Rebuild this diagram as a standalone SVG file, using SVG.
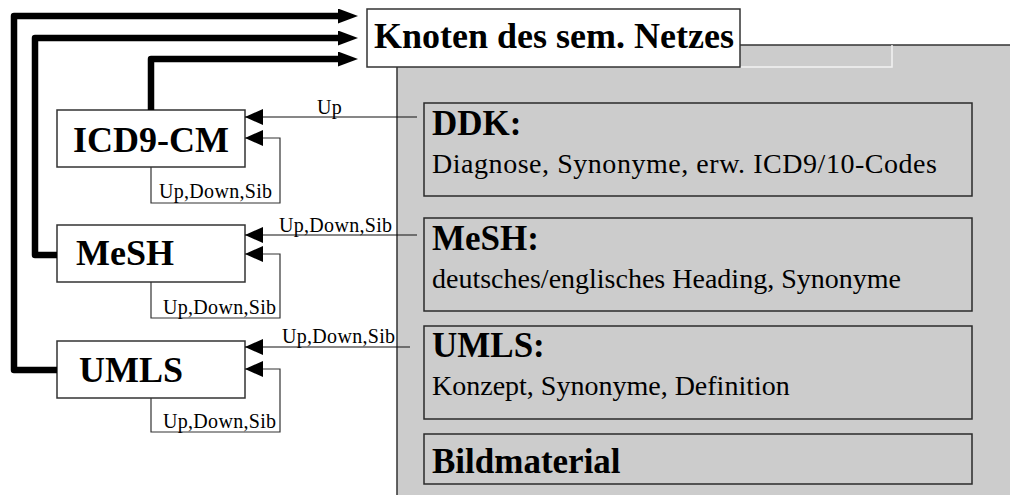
<svg xmlns="http://www.w3.org/2000/svg" width="1010" height="495" viewBox="0 0 1010 495">
  <style>
    .node { fill: #ffffff; stroke: #333333; stroke-width: 1.5; }
    .info { fill: #cccccc; stroke: #2a2a2a; stroke-width: 1.5; }
    .big { font-family: "Liberation Serif", "Times New Roman", serif; font-weight: bold; font-size: 36px; fill: #000; }
    .head { font-family: "Liberation Serif", "Times New Roman", serif; font-weight: bold; font-size: 35px; fill: #000; }
    .sub { font-family: "Liberation Serif", "Times New Roman", serif; font-size: 28px; fill: #000; }
    .lbl { font-family: "Liberation Serif", "Times New Roman", serif; font-size: 20px; letter-spacing: 0.3px; fill: #000; }
    .thick { fill: none; stroke: #000; stroke-width: 6.5; stroke-linejoin: round; marker-end: url(#bigArrow); }
    .thin { fill: none; stroke: #111; stroke-width: 1.2; marker-end: url(#smallArrow); }
    .loop { fill: none; stroke: #333; stroke-width: 1.2; marker-end: url(#smallArrow); }
  </style>
  <defs>
    <marker id="bigArrow" markerUnits="userSpaceOnUse" markerWidth="20" markerHeight="16" refX="4" refY="7.5" orient="auto">
      <path d="M0,0 L20,7.5 L0,15 Z" fill="#000"/>
    </marker>
    <marker id="smallArrow" markerUnits="userSpaceOnUse" markerWidth="18" markerHeight="17" refX="18" refY="8" orient="auto">
      <path d="M0,0 L18,8 L0,16 Z" fill="#000"/>
    </marker>
  </defs>

  <rect width="1010" height="495" fill="#ffffff"/>

  <!-- grey panel holding the node contents -->
  <g id="panel">
    <rect x="397" y="45" width="620" height="460" fill="#cccccc" stroke="#333" stroke-width="1.5"/>
    <path d="M740,67 H892 V45" fill="none" stroke="#f2f2f2" stroke-width="1.5"/>
  </g>

  <g id="node-title">
    <rect class="node" x="367" y="9" width="373" height="58"/>
    <text class="big" x="374" y="48">Knoten des sem. Netzes</text>
  </g>

  <g id="info-ddk">
    <rect class="info" x="424" y="103" width="548" height="93"/>
    <text class="head" x="432" y="135">DDK:</text>
    <text class="sub" x="432" y="173" textLength="505" lengthAdjust="spacing">Diagnose, Synonyme, erw. ICD9/10-Codes</text>
  </g>
  <g id="info-mesh">
    <rect class="info" x="424" y="218" width="548" height="93"/>
    <text class="head" x="432" y="250">MeSH:</text>
    <text class="sub" x="432" y="288">deutsches/englisches Heading, Synonyme</text>
  </g>
  <g id="info-umls">
    <rect class="info" x="424" y="326" width="548" height="93"/>
    <text class="head" x="432" y="357">UMLS:</text>
    <text class="sub" x="432" y="395">Konzept, Synonyme, Definition</text>
  </g>
  <g id="info-bild">
    <rect class="info" x="424" y="434" width="548" height="50"/>
    <text class="head" x="432" y="473">Bildmaterial</text>
  </g>

  <g id="node-icd9">
    <rect class="node" x="57" y="110" width="188" height="57"/>
    <text class="big" x="73" y="152">ICD9-CM</text>
  </g>
  <g id="node-mesh">
    <rect class="node" x="57" y="225" width="188" height="57"/>
    <text class="big" x="76" y="265">MeSH</text>
  </g>
  <g id="node-umls">
    <rect class="node" x="57" y="341" width="188" height="57"/>
    <text class="big" x="79" y="382">UMLS</text>
  </g>

  <g id="connectors">
    <!-- links to the semantic-net node -->
    <path class="thick" d="M57,370 H14 V16 H342"/>
    <path class="thick" d="M57,255 H35 V38 H342"/>
    <path class="thick" d="M151,110 V59 H342"/>

    <!-- incoming relations from the panel -->
    <path class="thin" d="M417,117 H245"/>
    <text class="lbl" x="317" y="114">Up</text>
    <path class="thin" d="M417,235 H245"/>
    <text class="lbl" x="279" y="232">Up,Down,Sib</text>
    <path class="thin" d="M410,347 H245"/>
    <text class="lbl" x="282" y="343">Up,Down,Sib</text>

    <!-- self relations -->
    <path class="loop" d="M151,167 V203 H280 V138 H245"/>
    <text class="lbl" x="159" y="198">Up,Down,Sib</text>
    <path class="loop" d="M151,282 V318 H280 V254 H245"/>
    <text class="lbl" x="163" y="314">Up,Down,Sib</text>
    <path class="loop" d="M151,398 V432 H280 V369 H245"/>
    <text class="lbl" x="163" y="428">Up,Down,Sib</text>
  </g>
</svg>
